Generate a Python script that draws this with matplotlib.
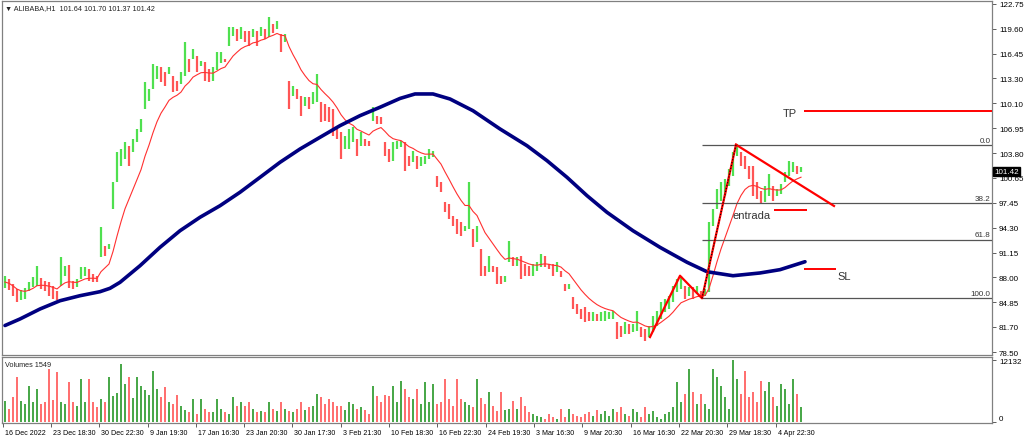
import numpy as np
import pandas as pd
import matplotlib
matplotlib.use("Agg")
import matplotlib.pyplot as plt
import matplotlib.transforms as mtransforms

plt.rcParams['font.family'] = ['Liberation Sans', 'DejaVu Sans']

# barres H1 regroupees par 2 : plus bas / plus haut
lows = [86.6, 86.4, 85.6, 84.9, 85.1, 85.3, 86.2, 86.8, 86.9, 86.5,
        86.3, 85.6, 85.3, 85.1, 86.9, 88.2, 86.6, 86.5, 86.8, 87.8,
        88.2, 87.5, 87.4, 87.4, 90.6, 90.7, 91.6, 96.7, 100.1, 102.2,
        103.0, 102.2, 103.9, 105.2, 106.5, 109.4, 110.4, 111.9, 113.2, 112.8,
        112.3, 113.9, 111.6, 111.7, 112.6, 113.6, 114.1, 115.8, 114.1, 114.9,
        113.0, 112.8, 113.0, 114.3, 115.3, 115.4, 117.4, 118.7, 118.0, 118.3,
        117.9, 117.4, 118.6, 117.4, 118.7, 118.3, 118.6, 119.0, 119.6, 116.6,
        117.9, 109.4, 111.0, 110.7, 108.5, 109.8, 109.4, 110.0, 110.3, 107.7,
        107.9, 107.7, 106.0, 105.6, 103.0, 104.3, 104.3, 105.2, 103.4, 104.7,
        104.7, 104.7, 107.9, 107.5, 107.5, 103.4, 102.7, 102.8, 104.3, 104.6,
        101.5, 102.2, 102.7, 101.8, 102.2, 102.4, 103.0, 103.3, 99.5, 98.9,
        96.3, 95.4, 94.5, 93.5, 93.3, 93.9, 94.1, 91.9, 92.5, 88.2,
        88.2, 88.7, 88.7, 87.2, 87.2, 87.4, 89.9, 89.4, 89.4, 87.8,
        88.2, 88.2, 88.2, 88.8, 89.3, 89.3, 89.1, 88.2, 88.7, 88.0,
        86.3, 86.5, 84.0, 83.3, 82.7, 82.3, 82.4, 82.4, 82.4, 82.4,
        82.4, 82.7, 82.7, 80.2, 80.4, 80.8, 80.8, 81.0, 81.2, 80.4,
        79.9, 80.4, 81.0, 81.8, 82.7, 83.6, 84.0, 84.9, 86.1, 86.5,
        85.2, 85.6, 85.2, 85.9, 85.4, 85.6, 86.1, 94.5, 96.7, 97.7,
        98.3, 99.6, 100.9, 103.4, 102.2, 101.8, 100.5, 98.3, 97.9, 97.3,
        97.6, 98.3, 97.7, 98.3, 98.6, 100.1, 100.9, 101.4, 101.1, 101.4]
highs = [88.2, 87.8, 87.2, 86.5, 86.4, 86.7, 87.4, 88.0, 89.4, 87.9,
         87.5, 87.4, 86.9, 86.2, 90.6, 89.4, 89.6, 87.5, 87.8, 89.3,
         89.3, 89.0, 88.4, 88.2, 94.4, 92.0, 92.2, 100.1, 103.9, 104.3,
         105.2, 104.7, 105.6, 106.9, 108.1, 112.8, 111.9, 115.1, 114.9, 114.7,
         114.1, 114.7, 113.6, 113.0, 114.1, 117.9, 115.8, 117.0, 116.1, 115.5,
         115.4, 114.5, 114.7, 116.6, 116.6, 115.8, 119.8, 119.8, 119.6, 119.8,
         119.3, 119.3, 119.6, 119.3, 119.8, 119.6, 121.1, 120.2, 120.6, 118.9,
         118.9, 113.0, 112.3, 111.9, 111.1, 110.9, 110.9, 111.6, 113.9, 110.3,
         110.0, 109.6, 109.4, 106.9, 106.5, 106.0, 106.9, 107.1, 105.6, 106.5,
         105.6, 105.3, 109.7, 108.5, 108.4, 105.2, 104.3, 105.2, 105.3, 105.3,
         105.2, 103.4, 104.1, 103.4, 103.3, 103.4, 104.3, 104.1, 100.9, 100.1,
         97.6, 97.3, 95.8, 95.4, 95.0, 94.5, 100.1, 94.1, 94.5, 91.6,
         89.4, 90.7, 89.4, 89.3, 88.2, 88.2, 92.6, 90.6, 90.6, 90.7,
         89.7, 89.4, 89.7, 90.0, 91.0, 90.7, 89.7, 89.7, 90.0, 88.8,
         87.1, 87.1, 85.5, 84.6, 84.0, 84.2, 83.6, 83.6, 83.3, 83.6,
         83.7, 83.6, 83.7, 82.3, 81.8, 82.3, 82.1, 82.1, 83.7, 81.7,
         81.4, 81.8, 83.1, 83.7, 84.9, 85.2, 85.6, 86.9, 87.8, 88.2,
         86.9, 86.8, 86.8, 86.9, 86.3, 86.5, 95.0, 96.7, 99.2, 100.1,
         100.5, 101.8, 103.9, 104.9, 103.9, 103.4, 102.2, 102.2, 100.1, 99.0,
         99.6, 101.1, 99.6, 99.2, 99.9, 101.4, 102.8, 102.7, 102.2, 102.0]
volumes = [4120, 2550, 4900, 8820, 4120, 3530, 7060, 3920, 6470, 3530,
           3920, 10390, 4310, 9800, 3920, 3530, 7840, 3920, 3140, 8430,
           3920, 8430, 3920, 2940, 4510, 3920, 8820, 5100, 5680, 11370,
           7450, 8820, 4700, 8820, 7060, 6270, 5290, 10000, 6470, 4900,
           6860, 3920, 3530, 5290, 3140, 2350, 1960, 4510, 1570, 4510,
           2550, 1960, 1960, 4510, 2550, 1960, 1570, 4900, 3140, 3920,
           3140, 3920, 2550, 1960, 2160, 1960, 3920, 2550, 2160, 3920,
           2550, 2160, 1960, 2550, 3920, 2350, 2940, 3140, 5490, 4900,
           3530, 4510, 3920, 3140, 3140, 2350, 3920, 3530, 2550, 2940,
           2350, 1570, 7060, 5100, 3920, 5290, 5100, 7060, 3920, 8040,
           6470, 4900, 4510, 6470, 3530, 7840, 3920, 7450, 3530, 3920,
           8430, 4510, 3140, 8430, 4510, 3920, 3330, 2940, 8430, 4700,
           3530, 5880, 3140, 2160, 5880, 2350, 2550, 4120, 2550, 4900,
           3140, 1960, 1570, 1180, 980, 590, 1570, 980, 590, 2550,
           980, 2550, 1570, 1180, 980, 1570, 1960, 1180, 2350, 1570,
           2160, 1180, 2550, 1960, 2940, 1570, 1180, 2550, 1960, 980,
           2940, 1570, 2160, 980, 590, 1570, 1960, 2940, 7840, 3920,
           5490, 10390, 5880, 3530, 5490, 3530, 2550, 10390, 8820, 7060,
           4900, 2550, 12132, 8430, 5490, 10000, 4900, 5880, 3920, 8040,
           6080, 7840, 4900, 3140, 7450, 6470, 3530, 8430, 5490, 2940]

# moyenne mobile longue
ma_idx = [0, 3.75, 8.75, 13.75, 18.75, 23.75, 26.25, 28.75, 33.75, 38.75,
          43.75, 48.75, 53.75, 58.75, 63.75, 68.75, 73.75, 78.75, 83.75,
          88.75, 93.75, 98.75, 102.5, 107, 111.25, 117, 123.75, 130.5, 135.5,
          140.5, 145.5, 150.5, 157, 163.75, 170.5, 175.5, 182, 188.75,
          193.75, 200]
ma_val = [81.87, 82.70, 83.97, 85.02, 85.66, 86.17, 86.60, 87.36, 89.47,
          91.81, 93.92, 95.63, 97.10, 98.81, 100.71, 102.62, 104.31, 105.80,
          107.28, 108.55, 109.62, 110.74, 111.31, 111.31, 110.67, 109.18,
          106.86, 104.73, 102.83, 100.71, 98.38, 96.26, 93.92, 91.81, 89.91,
          88.71, 88.20, 88.55, 88.97, 89.98]

price_ticks = [122.75, 119.60, 116.45, 113.30, 110.10, 106.95, 103.80, 100.65,
               97.45, 94.30, 91.15, 88.00, 84.85, 81.70, 78.50]
date_labels = ['16 Dec 2022', '23 Dec 18:30', '30 Dec 22:30', '9 Jan 19:30',
               '17 Jan 16:30', '23 Jan 20:30', '30 Jan 17:30', '3 Feb 21:30',
               '10 Feb 18:30', '16 Feb 22:30', '24 Feb 19:30', '3 Mar 16:30',
               '9 Mar 20:30', '16 Mar 16:30', '22 Mar 20:30', '29 Mar 18:30',
               '4 Apr 22:30']

# Fibonacci + dessins
fib_hi, fib_lo = 104.86, 85.33
fib_pct = [0.0, 38.2, 61.8, 100.0]
zz_x = [161.25, 168.75, 174.25, 182.75]
zz_y = [80.4, 88.2, fib_lo, fib_hi]
trend_x = [182.75, 207.25]
trend_y = [fib_hi, 97.07]
tp, entrada, sl = 109.15, 96.6, 89.05
last = 101.42

lows = np.array(lows)
highs = np.array(highs)
n = len(lows)
xs = np.arange(n)
mid = (lows + highs) / 2
up = np.r_[True, mid[1:] >= mid[:-1]]
col = np.where(up, '#4fe04f', '#ff5555')
vcol = np.where(up, '#4aa84a', '#ff7070')
ema = pd.Series(mid).ewm(span=10).mean()

W, H = 1024, 439
def box(x0, y0, x1, y1):
    return [x0 / W, 1 - y1 / H, (x1 - x0) / W, (y1 - y0) / H]

fig = plt.figure(figsize=(W / 100, H / 100), dpi=100)
ax = fig.add_axes(box(2, 2, 992, 356))
axv = fig.add_axes(box(2, 358, 992, 424))
xmin, xmax = -0.75, 246.75

ax.vlines(xs, lows, highs, colors=col, lw=1.6, zorder=2)
ax.plot(xs, ema, color='#ff3030', lw=0.8, zorder=3)
ax.plot(ma_idx, ma_val, color='#000080', lw=2.6, zorder=4,
        solid_capstyle='round', solid_joinstyle='round')

# niveaux de Fibonacci
for p in fib_pct:
    lvl = fib_hi - (fib_hi - fib_lo) * p / 100
    ax.hlines(lvl, zz_x[2], xmax, color='#555555', lw=0.9, zorder=3)
    ax.text(xmax - 0.4, lvl + 0.15, '%.1f' % p, ha='right', va='bottom',
            fontsize=5.8, color='#333333')

ax.plot(zz_x, zz_y, color='#ff0000', lw=1.6, zorder=5)
ax.plot(zz_x[2:], zz_y[2:], color='black', lw=0.8, ls=':', zorder=6)
ax.plot(trend_x, trend_y, color='#ff0000', lw=1.6, zorder=5)

ax.hlines(tp, 199.75, xmax, color='#ff0000', lw=1.4, zorder=5)
ax.text(196.25, tp - 0.2, 'TP', ha='center', va='center', fontsize=8, color='#333333')
ax.hlines(entrada, 192.25, 200.5, color='#ff0000', lw=1.4, zorder=5)
ax.text(186.75, entrada - 0.7, 'entrada', ha='center', va='center', fontsize=8, color='#333333')
ax.hlines(sl, 199.75, 207.75, color='#ff0000', lw=1.4, zorder=5)
ax.text(208.0, sl - 0.9, 'SL', ha='left', va='center', fontsize=8, color='#333333')

ax.set_xlim(xmin, xmax)
ax.set_ylim(78.12, 123.13)
ax.set_xticks([])
ax.yaxis.tick_right()
ax.set_yticks(price_ticks)
ax.set_yticklabels(['%.2f' % t for t in price_ticks])
ax.tick_params(axis='y', length=3, width=0.6, color='#444444', labelsize=5.8, pad=2)

trans = mtransforms.blended_transform_factory(ax.transAxes, ax.transData)
ax.text(1.002, last, '%.2f' % last, transform=trans, ha='left', va='center',
        fontsize=5.8, color='white', zorder=10,
        bbox=dict(boxstyle='square,pad=0.15', fc='black', ec='black'))

ax.text(0.003, 0.982, '\u25bc ALIBABA,H1  101.64 101.70 101.37 101.42',
        transform=ax.transAxes, fontsize=5.2, va='center', ha='left', color='#222222')

# volumes
axv.bar(xs, volumes, width=0.55, color=vcol, zorder=2)
axv.set_xlim(xmin, xmax)
axv.set_ylim(-196, 12720)
axv.yaxis.tick_right()
axv.set_yticks([0, 12132])
axv.set_yticklabels(['0', '12132'])
axv.tick_params(axis='y', length=3, width=0.6, color='#444444', labelsize=5.8, pad=2)
axv.get_yticklabels()[0].set_va('bottom')
axv.text(0.003, 0.89, 'Volumes 1549', transform=axv.transAxes, fontsize=5.2,
         va='center', ha='left', color='#222222')

tick_pos = np.arange(len(date_labels)) * 12.075 - 0.575
axv.set_xticks(tick_pos)
axv.set_xticklabels(date_labels)
axv.tick_params(axis='x', length=3, width=0.6, color='#444444', labelsize=5.1, pad=1.5)
off = mtransforms.ScaledTranslation(2 / 100, 0, fig.dpi_scale_trans)
for t in axv.get_xticklabels():
    t.set_ha('left')
    t.set_transform(t.get_transform() + off)

for a in (ax, axv):
    for s in a.spines.values():
        s.set_color('#808080')
        s.set_linewidth(0.9)

fig.savefig('out.png', dpi=100, facecolor='white')
